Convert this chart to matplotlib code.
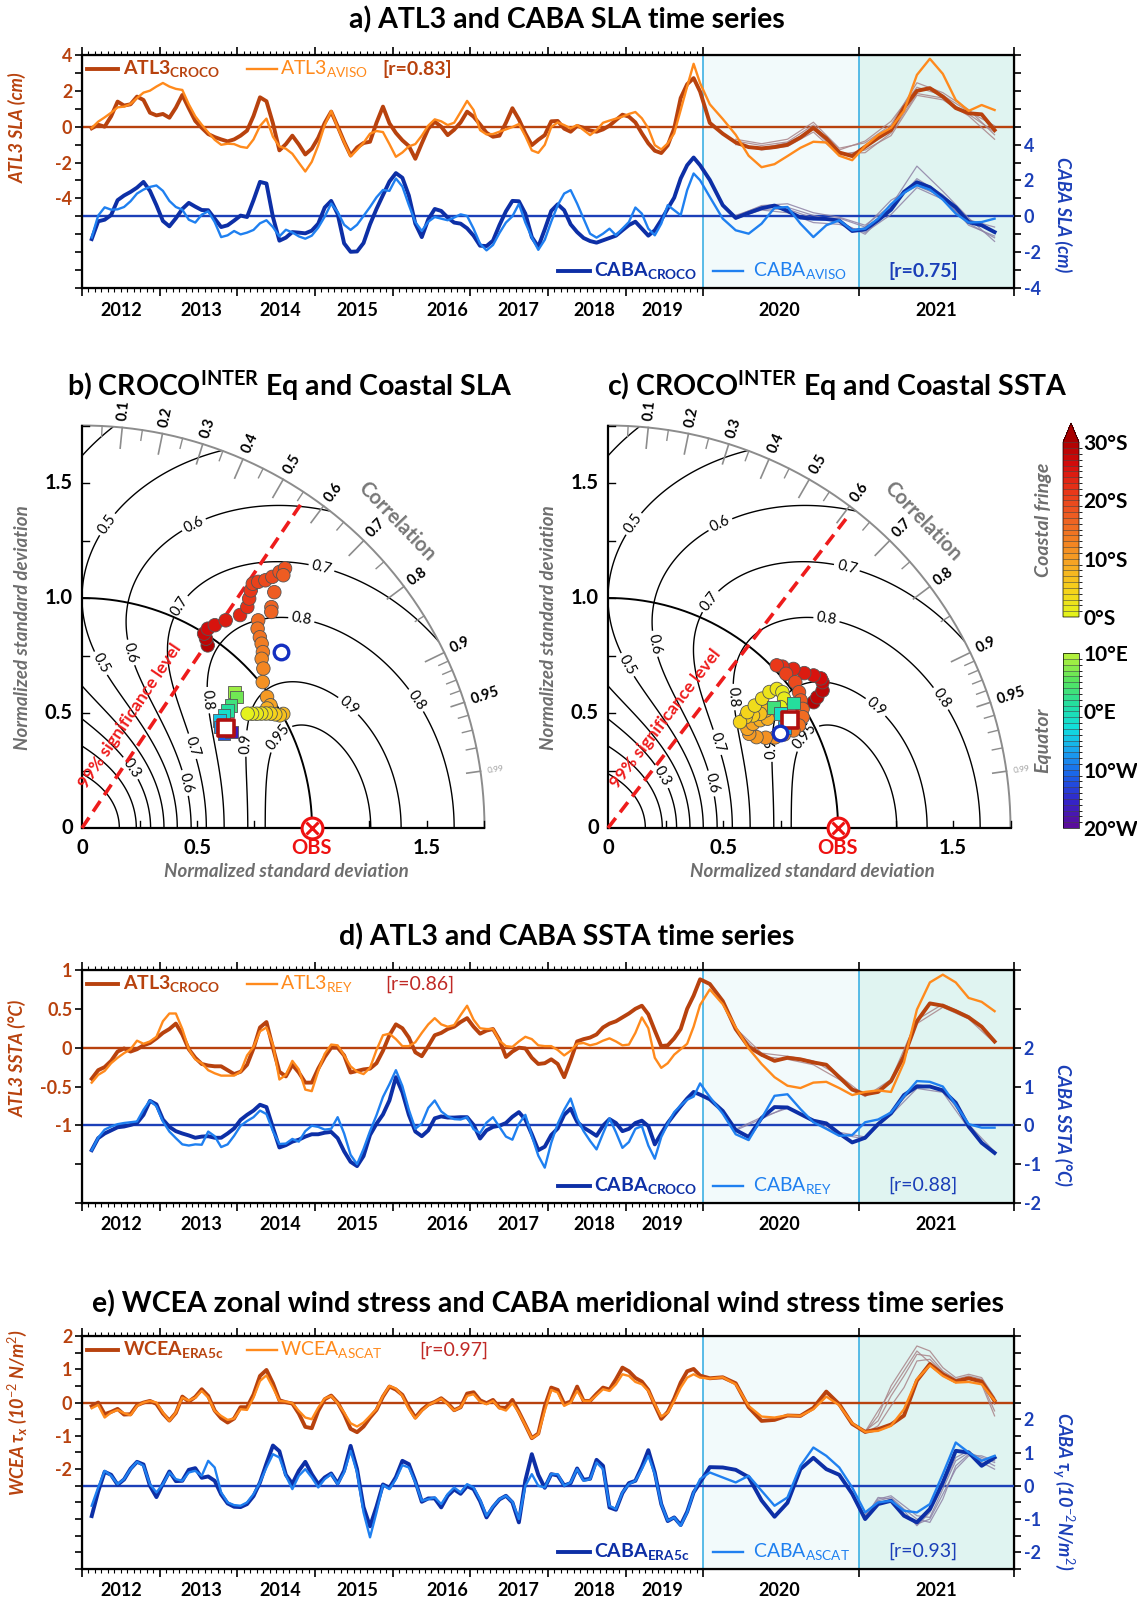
import numpy as np
import matplotlib
matplotlib.use('Agg')
import matplotlib.pyplot as plt
import matplotlib.transforms as mtransforms
from matplotlib.colors import LinearSegmentedColormap, BoundaryNorm
from matplotlib.cm import ScalarMappable

plt.rcParams['font.family'] = ['Lato', 'DejaVu Sans']
plt.rcParams['mathtext.fontset'] = 'custom'
plt.rcParams['mathtext.rm'] = 'Lato'
plt.rcParams['mathtext.bf'] = 'Lato:bold'
plt.rcParams['mathtext.it'] = 'Lato:italic:bold'

# ---------------------------------------------------------------- data
# monthly values, Feb 2012 (m=1) .. Nov 2021 (m=118)
months = np.arange(1, 119)

sla_atl_croco = [-0.09, 0.11, 0.0, 0.58, 1.40, 1.18, 1.25, 1.68, 1.49, 0.78, 0.63, 0.71,
                 0.50, 1.06, 1.77, 1.03, 0.32, -0.06, -0.41, -0.58, -0.71, -0.82, -0.71, -0.50,
                 -0.22, 0.60, 1.64, 1.42, 0.19, -1.32, -0.97, -0.50, -0.99, -1.55, -1.23, -0.62,
                 0.21, 0.84, 0.02, -0.84, -1.60, -1.16, -0.91, -0.84, 0.22, 1.12, 0.19, -0.35,
                 -0.76, -1.08, -1.79, -0.93, -0.11, 0.28, 0.0, -0.47, -0.17, 0.24, 0.84, 0.56,
                 0.13, -0.34, -0.56, -0.50, 0.22, 1.03, 0.41, -0.37, -1.03, -0.73, -0.47, 0.30,
                 0.32, -0.11, -0.28, 0.04, -0.06, -0.21, -0.28, -0.15, 0.06, 0.37, 0.67, 0.56,
                 0.24, -0.37, -0.93, -1.34, -1.47, -1.04, -0.09, 1.60, 2.37, 2.71, 1.96, 0.21,
                 -0.39, -0.88, -1.14, -1.21, -1.14, -1.01, -0.60, -0.07, -0.65, -1.44, -1.64, -1.12,
                 -0.63, -0.19, 1.06, 2.00, 2.15, 1.68, 1.04, 0.75, 0.69, -0.19]
sla_atl_aviso = [-0.07, 0.28, 0.52, 0.78, 1.08, 1.12, 1.27, 1.60, 1.90, 2.01, 2.24, 2.44,
                 2.24, 2.11, 2.05, 1.25, 0.58, 0.11, -0.32, -0.73, -1.01, -0.95, -0.97, -1.12,
                 -1.18, -0.71, 0.04, 0.45, -0.56, -1.10, -1.23, -1.51, -2.01, -2.50, -1.96, -1.04,
                 0.09, 0.88, -0.04, -0.86, -1.66, -1.29, -0.90, -0.39, -0.24, -0.30, -0.97, -1.68,
                 -1.44, -1.10, -0.97, -0.50, 0.06, 0.41, 0.30, 0.09, 0.22, 0.82, 1.44, 0.93,
                 -0.19, -0.43, -0.41, -0.28, -0.15, -0.02, 0.15, -0.52, -1.32, -1.46, -1.01, -0.02,
                 0.24, 0.09, -0.09, 0.09, -0.19, -0.47, -0.19, 0.22, 0.34, 0.45, 0.56, 0.71,
                 0.82, 0.47, -0.09, -1.03, -1.27, -0.93, -0.37, 0.93, 2.24, 3.51, 2.43, 1.25,
                 0.43, -0.45, -1.62, -2.26, -2.09, -1.64, -1.18, -0.84, -0.88, -1.62, -1.87, -1.08,
                 -0.47, -0.06, 0.88, 2.89, 3.79, 2.95, 1.49, 0.88, 1.21, 0.93]
sla_caba_croco = [-1.27, -0.28, -0.19, 0.07, 0.90, 1.16, 1.36, 1.60, 1.92, 1.42, 0.62, -0.26,
                  -0.56, -0.11, 0.41, 0.75, 0.54, 0.35, 0.34, -0.13, -0.60, -0.50, -0.24, 0.04,
                  -0.04, 0.90, 1.92, 1.83, -0.04, -1.36, -1.19, -0.88, -0.91, -0.95, -0.80, -0.41,
                  0.49, 0.86, 0.13, -1.51, -1.98, -1.96, -1.49, -0.45, 0.41, 1.18, 1.94, 2.41,
                  2.15, 1.16, -0.41, -1.16, -0.17, 0.41, 0.30, -0.07, -0.35, -0.41, -0.67, -1.08,
                  -1.64, -1.66, -1.36, -0.49, 0.28, 0.86, 0.84, 0.15, -1.16, -1.70, -0.73, 0.30,
                  0.67, 0.34, -0.45, -0.88, -1.21, -1.38, -1.47, -1.34, -1.21, -1.08, -0.78, -0.49,
                  -0.30, -0.69, -1.08, -0.78, -0.21, 0.43, 1.04, 2.11, 2.85, 3.28, 2.85, 2.03,
                  0.62, -0.09, 0.19, 0.45, 0.60, 0.30, -0.07, -0.13, -0.15, -0.24, -0.82, -0.73,
                  -0.22, 0.37, 1.36, 1.90, 1.62, 1.06, 0.50, -0.32, -0.50, -0.88]
sla_caba_aviso = [-1.18, 0.04, 0.50, 0.37, 0.39, 0.52, 0.84, 1.27, 1.49, 1.64, 1.72, 1.42,
                  0.86, 0.52, 0.37, -0.19, -0.35, 0.09, 0.28, -0.32, -1.16, -1.06, -0.82, -1.01,
                  -0.91, -0.76, -0.39, -0.22, -0.60, -1.12, -0.75, -0.90, -1.12, -1.25, -1.08, -0.63,
                  -0.02, 0.71, 0.24, -0.47, -0.76, -0.47, 0.02, 0.52, 1.06, 1.47, 1.42, 2.11,
                  1.66, 0.63, -0.32, -0.82, -0.30, -0.04, -0.13, -0.22, -0.07, 0.11, 0.02, -0.69,
                  -1.53, -1.90, -1.60, -0.93, -0.35, 0.00, 0.69, -0.35, -1.18, -1.87, -1.31, -0.30,
                  0.62, 1.27, 1.46, 0.71, -0.13, -0.97, -1.19, -0.97, -0.69, -1.06, -0.69, -0.32,
                  0.49, 0.15, -0.69, -1.06, -0.41, 0.62, 0.34, 0.06, 1.46, 2.39, 2.01, 1.08,
                  -0.13, -0.78, -0.97, -0.41, 0.47, 0.52, -0.41, -1.16, -0.50, -0.22, -0.78, -0.69,
                  -0.13, 0.67, 1.31, 1.74, 1.49, 0.93, 0.15, -0.35, -0.32, -0.13]

sst_atl_croco = [-0.40, -0.29, -0.25, -0.17, -0.05, -0.01, -0.05, -0.02, 0.03, 0.06, 0.12, 0.19,
                 0.24, 0.31, 0.17, -0.02, -0.13, -0.21, -0.23, -0.24, -0.24, -0.29, -0.34, -0.31,
                 -0.22, -0.01, 0.26, 0.33, 0.0, -0.31, -0.37, -0.22, -0.32, -0.45, -0.45, -0.27,
                 -0.12, 0.0, 0.0, -0.10, -0.32, -0.30, -0.28, -0.27, -0.20, -0.04, 0.16, 0.30,
                 0.25, 0.13, -0.06, -0.11, 0.02, 0.16, 0.19, 0.24, 0.27, 0.33, 0.38, 0.27,
                 0.18, 0.22, 0.24, 0.10, -0.12, -0.05, 0.0, -0.01, -0.13, -0.21, -0.20, -0.15,
                 -0.21, -0.38, -0.16, 0.08, 0.11, 0.13, 0.17, 0.26, 0.31, 0.34, 0.39, 0.44,
                 0.50, 0.54, 0.43, 0.22, 0.02, 0.03, 0.12, 0.24, 0.50, 0.67, 0.88, 0.82,
                 0.60, 0.24, 0.01, -0.09, -0.17, -0.13, -0.15, -0.19, -0.22, -0.38, -0.54, -0.60,
                 -0.57, -0.43, -0.11, 0.34, 0.57, 0.54, 0.47, 0.39, 0.27, 0.08]
sst_atl_rey = [-0.45, -0.35, -0.30, -0.20, -0.13, -0.07, -0.02, 0.09, 0.05, 0.08, 0.14, 0.34,
               0.44, 0.44, 0.24, -0.02, -0.15, -0.20, -0.29, -0.33, -0.36, -0.36, -0.36, -0.31,
               -0.10, 0.01, 0.21, 0.26, 0.04, -0.41, -0.35, -0.17, -0.28, -0.54, -0.56, -0.30,
               -0.08, 0.04, 0.03, -0.10, -0.24, -0.31, -0.34, -0.26, -0.03, 0.16, 0.18, 0.11,
               0.02, 0.02, 0.07, 0.19, 0.30, 0.38, 0.30, 0.27, 0.29, 0.42, 0.54, 0.36,
               0.25, 0.24, 0.24, 0.09, 0.02, 0.01, 0.08, 0.14, 0.11, 0.03, 0.02, 0.02,
               -0.03, -0.10, -0.04, 0.05, 0.06, 0.03, 0.05, 0.09, 0.12, 0.08, 0.03, 0.04,
               0.19, 0.39, 0.25, -0.13, -0.26, -0.20, -0.09, -0.02, 0.05, 0.27, 0.55, 0.75,
               0.56, 0.26, -0.01, -0.21, -0.38, -0.49, -0.52, -0.45, -0.44, -0.52, -0.61, -0.57,
               -0.55, -0.57, -0.19, 0.49, 0.84, 0.94, 0.84, 0.64, 0.59, 0.47]
sst_caba_croco = [-0.64, -0.33, -0.21, -0.13, -0.05, -0.03, 0.01, 0.06, 0.27, 0.63, 0.54, 0.15,
                  -0.04, -0.15, -0.21, -0.26, -0.32, -0.29, -0.28, -0.32, -0.32, -0.21, -0.08, 0.14,
                  0.27, 0.38, 0.53, 0.47, -0.06, -0.57, -0.51, -0.42, -0.37, -0.29, -0.23, -0.23,
                  -0.19, -0.17, -0.33, -0.67, -0.94, -1.05, -0.79, -0.25, 0.04, 0.28, 0.64, 1.24,
                  0.85, 0.27, -0.16, -0.28, -0.13, 0.18, 0.23, 0.20, 0.20, 0.21, 0.21, 0.01,
                  -0.34, -0.13, -0.04, -0.01, 0.06, 0.22, 0.34, 0.15, -0.23, -0.64, -0.55, -0.25,
                  -0.08, 0.27, 0.43, 0.09, -0.06, -0.16, -0.27, -0.01, 0.16, 0.06, -0.15, -0.09,
                  0.06, 0.12, -0.02, -0.49, -0.21, 0.06, 0.28, 0.49, 0.69, 0.86, 0.79, 0.67,
                  0.37, -0.12, -0.30, 0.19, 0.47, 0.46, 0.29, 0.12, 0.05, -0.21, -0.44, -0.32,
                  0.03, 0.31, 0.78, 1.00, 1.00, 0.90, 0.58, -0.03, -0.45, -0.71]
sst_caba_rey = [-0.64, -0.32, -0.11, -0.03, 0.03, 0.06, 0.08, 0.10, 0.40, 0.64, 0.49, 0.10,
                -0.16, -0.33, -0.49, -0.52, -0.49, -0.50, -0.16, -0.28, -0.56, -0.49, -0.27, -0.01,
                0.11, 0.21, 0.38, 0.29, -0.15, -0.48, -0.47, -0.35, -0.42, -0.15, -0.01, -0.04,
                -0.11, -0.09, 0.21, -0.21, -0.76, -1.00, -0.61, -0.15, 0.26, 0.73, 1.06, 1.42,
                1.01, 0.40, -0.09, 0.05, 0.45, 0.64, 0.36, 0.23, 0.16, 0.15, 0.21, -0.10,
                -0.20, 0.07, 0.21, -0.04, -0.29, -0.37, 0.04, 0.27, -0.27, -0.78, -1.09, -0.45,
                0.04, 0.40, 0.69, 0.18, -0.15, -0.40, -0.62, -0.21, 0.18, -0.18, -0.58, -0.43,
                -0.09, -0.02, -0.52, -0.86, -0.30, 0.04, 0.34, 0.51, 0.66, 0.74, 1.08, 0.73,
                0.30, -0.23, -0.38, 0.18, 0.76, 0.80, 0.42, 0.08, -0.09, -0.27, -0.25, 0.08,
                0.15, 0.33, 0.75, 1.14, 1.12, 1.00, 0.53, 0.03, -0.06, -0.06]

tau_wcea_era5 = [-0.11, 0.0, -0.35, -0.28, -0.19, -0.36, -0.35, -0.08, 0.0, 0.05, -0.04, -0.33,
                 -0.54, -0.31, 0.18, 0.03, 0.17, 0.40, 0.20, -0.24, -0.47, -0.60, -0.48, -0.14,
                 -0.14, 0.24, 0.80, 0.98, 0.58, 0.07, 0.01, -0.03, -0.33, -0.73, -0.77, -0.25,
                 0.10, 0.21, 0.0, -0.35, -0.79, -0.89, -0.72, -0.45, -0.22, 0.18, 0.48, 0.39,
                 0.23, -0.14, -0.45, -0.22, -0.06, 0.02, 0.13, -0.02, -0.23, -0.14, 0.27, 0.31,
                 0.07, -0.02, 0.08, -0.15, -0.16, 0.08, -0.28, -0.67, -1.07, -0.93, -0.11, 0.45,
                 0.38, -0.04, 0.03, 0.48, 0.05, 0.05, 0.26, 0.45, 0.39, 0.70, 1.05, 0.94,
                 0.74, 0.63, 0.38, -0.07, -0.49, -0.28, 0.12, 0.60, 0.94, 1.01, 0.81, 0.73,
                 0.76, 0.58, -0.14, -0.55, -0.52, -0.39, -0.40, -0.16, 0.33, -0.05, -0.64, -0.88,
                 -0.80, -0.66, -0.39, 0.66, 1.16, 0.85, 0.64, 0.73, 0.63, 0.06]
tau_wcea_ascat = [-0.17, -0.07, -0.45, -0.30, -0.22, -0.32, -0.38, -0.10, 0.0, 0.05, 0.0, -0.30,
                  -0.55, -0.30, 0.15, 0.06, 0.15, 0.35, 0.15, -0.25, -0.40, -0.52, -0.48, -0.20,
                  -0.22, 0.15, 0.65, 0.82, 0.45, 0.05, 0.03, -0.02, -0.25, -0.45, -0.50, -0.15,
                  0.12, 0.20, -0.02, -0.30, -0.62, -0.72, -0.60, -0.40, -0.20, 0.20, 0.50, 0.42,
                  0.20, -0.20, -0.48, -0.25, -0.08, 0.02, 0.12, -0.05, -0.24, -0.14, 0.20, 0.25,
                  0.03, -0.05, 0.05, -0.17, -0.24, -0.02, -0.30, -0.68, -1.07, -0.95, -0.25, 0.38,
                  0.30, -0.10, 0.0, 0.35, 0.05, 0.05, 0.22, 0.40, 0.35, 0.55, 0.85, 0.80,
                  0.62, 0.55, 0.35, -0.05, -0.42, -0.30, 0.05, 0.45, 0.75, 0.85, 0.75, 0.72,
                  0.76, 0.55, -0.10, -0.42, -0.45, -0.38, -0.40, -0.20, 0.18, -0.08, -0.62, -0.88,
                  -0.85, -0.70, -0.20, 0.70, 1.12, 0.80, 0.60, 0.62, 0.55, 0.06]
tau_caba_era5 = [-0.91, -0.17, 0.42, 0.33, 0.03, 0.19, 0.51, 0.72, 0.64, 0.0, -0.34, 0.06,
                 0.43, 0.14, 0.15, 0.48, 0.53, 0.24, 0.28, 0.15, -0.26, -0.53, -0.63, -0.64,
                 -0.55, -0.31, 0.10, 0.67, 1.21, 1.04, 0.33, 0.06, 0.45, 0.72, 0.35, 0.05,
                 0.25, 0.37, 0.07, 0.46, 1.20, 0.50, -0.64, -1.22, -0.63, 0.04, -0.06, 0.26,
                 0.75, 0.65, 0.14, -0.48, -0.38, -0.38, -0.65, -0.30, -0.11, -0.24, -0.01, -0.10,
                 -0.46, -0.95, -0.64, -0.41, -0.30, -0.50, -1.10, 0.16, 0.95, 0.33, -0.06, 0.35,
                 0.31, 0.01, 0.08, 0.52, 0.18, 0.21, 0.78, 0.60, -0.65, -0.72, -0.22, 0.08,
                 0.15, 0.57, 1.07, 0.40, -0.55, -1.06, -0.95, -1.18, -0.78, -0.20, 0.10, 0.56,
                 0.55, 0.48, 0.26, -0.44, -0.93, -0.51, 0.50, 0.84, 0.50, 0.33, -0.24, -1.0,
                 -0.55, -0.45, -0.90, -1.10, -0.70, 0.10, 1.05, 1.00, 0.60, 0.85]
tau_caba_ascat = [-0.60, -0.05, 0.45, 0.30, 0.05, 0.20, 0.50, 0.72, 0.60, 0.05, -0.20, 0.05,
                  0.40, 0.20, 0.15, 0.40, 0.45, 0.30, 0.75, 0.55, -0.20, -0.50, -0.58, -0.60,
                  -0.50, -0.25, 0.10, 0.55, 0.95, 0.85, 0.30, -0.10, 0.30, 0.50, 0.25, -0.05,
                  0.20, 0.35, 0.05, 0.40, 1.05, 0.40, -0.80, -1.55, -0.80, 0.02, -0.10, 0.20,
                  0.62, 0.55, 0.10, -0.45, -0.40, -0.35, -0.55, -0.25, -0.05, -0.20, 0.05, -0.05,
                  -0.42, -0.90, -0.62, -0.40, -0.30, -0.48, -1.00, 0.0, 0.35, 0.0, -0.05, 0.35,
                  0.35, 0.0, 0.10, 0.50, 0.15, 0.20, 0.70, 0.50, -0.60, -0.70, -0.20, 0.05,
                  0.15, 0.50, 0.90, 0.35, -0.55, -1.05, -0.95, -1.20, -0.80, -0.20, 0.20, 0.40,
                  0.25, 0.10, 0.30, -0.15, -0.60, -0.35, 0.60, 1.15, 0.90, 0.55, -0.05, -0.80,
                  -0.50, -0.45, -0.75, -0.80, -0.55, 0.35, 1.30, 1.00, 0.75, 0.90]

# ensemble members (sparser sampling)
mem_months_ad = [98, 100, 102, 104, 106, 108, 110, 112, 114, 116, 118]
mem_months_e = [108, 109, 110, 111, 112, 113, 114, 115, 116, 117, 118]
sla_atl_members = [[-0.70, -0.95, -0.70, 0.25, -1.20, -0.90, 0.10, 2.45, 1.90, 0.95, -0.45],
                   [-0.95, -1.30, -1.10, -0.30, -1.60, -1.30, -0.50, 1.75, 1.50, 0.60, -0.70],
                   [-0.80, -1.05, -0.85, 0.10, -1.30, -0.80, 0.30, 2.20, 1.75, 0.85, 0.05],
                   [-1.00, -1.20, -0.90, -0.15, -1.50, -1.45, -0.35, 1.85, 1.60, 0.70, -0.30]]
sla_caba_members = [[0.00, 0.60, 0.70, 0.20, -0.05, -0.50, 0.60, 2.80, 1.40, -0.10, -1.40],
                    [-0.10, 0.35, 0.20, -0.35, -0.45, -0.90, 0.10, 1.60, 0.95, -0.40, -1.20],
                    [0.05, 0.55, 0.50, 0.05, -0.30, -1.00, 0.50, 2.10, 1.20, -0.20, -0.60],
                    [-0.15, 0.40, 0.40, -0.10, -0.10, -0.60, 0.90, 1.70, 1.10, -0.50, -1.10]]
sst_atl_members = [[0.25, -0.07, -0.11, -0.17, -0.36, -0.62, -0.45, 0.31, 0.52, 0.37, 0.06],
                   [0.23, -0.11, -0.15, -0.22, -0.41, -0.63, -0.41, 0.36, 0.56, 0.41, 0.10]]
sst_caba_members = [[-0.10, 0.21, 0.44, 0.15, -0.18, -0.30, 0.27, 0.95, 0.85, -0.08, -0.74],
                    [-0.13, 0.17, 0.48, 0.10, -0.23, -0.35, 0.34, 1.05, 0.93, 0.02, -0.68]]
tau_wcea_members = [[-0.90, -0.40, 0.50, 1.10, 1.70, 1.55, 1.05, 0.75, 0.85, 0.75, 0.15],
                    [-0.85, -0.55, 0.20, 0.80, 1.45, 1.40, 0.95, 0.70, 0.80, 0.70, -0.05],
                    [-0.92, -0.70, -0.10, 0.45, 1.25, 1.30, 0.90, 0.65, 0.75, 0.60, -0.25],
                    [-0.88, -0.25, 0.35, 0.95, 1.55, 1.20, 0.80, 0.60, 0.72, 0.55, -0.40]]
tau_caba_members = [[-0.85, -0.45, -0.35, -0.70, -1.00, -1.10, -0.40, 0.60, 0.95, 0.80, 0.60],
                    [-0.90, -0.40, -0.30, -0.60, -0.90, -0.95, -0.10, 0.75, 1.00, 0.85, 0.70],
                    [-0.80, -0.50, -0.45, -0.85, -1.15, -1.00, -0.25, 0.50, 0.90, 0.90, 0.75],
                    [-0.95, -0.35, -0.40, -0.75, -1.20, -0.80, 0.00, 0.85, 1.05, 0.70, 0.50]]

years = ['2012', '2013', '2014', '2015', '2016', '2017', '2018', '2019', '2020', '2021']
year_label_pos = [2012.5, 2013.54, 2014.55, 2015.54, 2016.71, 2017.62, 2018.6, 2019.47, 2020.49, 2021.5]

# Taylor diagram points (normalised std, correlation)
b_coast_std = [0.964, 0.984, 0.998, 1.025, 1.054, 1.098, 1.153, 1.200, 1.234, 1.267, 1.296, 1.316,
               1.340, 1.370, 1.406, 1.433, 1.405, 1.323, 1.265, 1.249, 1.184, 1.155, 1.134, 1.119,
               1.097, 1.073, 1.050, 1.010, 0.986, 0.978, 0.958, 1.006, 0.990, 0.975, 0.959, 0.942,
               0.925, 0.908, 0.891, 0.875]
b_coast_corr = [0.567, 0.548, 0.532, 0.534, 0.548, 0.569, 0.596, 0.599, 0.589, 0.579, 0.573, 0.582,
                0.595, 0.604, 0.611, 0.616, 0.623, 0.632, 0.651, 0.659, 0.647, 0.661, 0.682, 0.698,
                0.717, 0.728, 0.751, 0.778, 0.816, 0.838, 0.840, 0.870, 0.869, 0.862, 0.855, 0.849,
                0.843, 0.837, 0.830, 0.823]
b_coast_lat = [29, 28, 27, 26, 25, 24, 23, 22, 21.5, 21, 20.5, 20, 19.5, 19, 18.5, 18, 17.5, 17,
               16.5, 16, 15, 14.5, 14, 13.5, 13, 12.5, 12, 11, 10, 9, 8, 7, 6, 5, 4, 3, 2, 1.5, 1, 0.5]
b_eq_std = [0.889, 0.881, 0.839, 0.814, 0.788, 0.759, 0.745, 0.741, 0.771]
b_eq_corr = [0.747, 0.763, 0.772, 0.778, 0.783, 0.787, 0.808, 0.833, 0.841]
b_eq_lon = [8, 6, 3, 1, -2, -5, -8, -12, -17]
b_caba = (0.760, 0.822)
b_atl3 = (1.156, 0.750)
b_sig_corr = 0.56

c_coast_std = [1.048, 1.073, 1.108, 1.128, 1.131, 1.113, 1.087, 1.062, 1.033, 1.019, 1.024, 1.032,
               1.019, 1.005, 0.992, 0.974, 0.942, 0.911, 0.867, 0.826, 0.790, 0.757, 0.738, 0.744,
               0.776, 0.811, 0.841, 0.855, 0.828, 0.798, 0.768, 0.736, 0.788, 0.831, 0.875, 0.918,
               0.951, 0.961, 0.950, 0.916]
c_coast_corr = [0.853, 0.848, 0.842, 0.827, 0.818, 0.803, 0.785, 0.759, 0.734, 0.720, 0.756, 0.789,
                0.815, 0.834, 0.853, 0.869, 0.881, 0.885, 0.883, 0.879, 0.868, 0.853, 0.832, 0.815,
                0.812, 0.816, 0.825, 0.802, 0.800, 0.790, 0.779, 0.780, 0.769, 0.768, 0.766, 0.765,
                0.772, 0.789, 0.806, 0.819]
c_coast_lat = [29, 28.5, 28, 27, 26, 25, 24, 23, 22, 21, 20, 19, 18, 17, 16, 15, 14, 13, 12, 11.5,
               11, 10.5, 10, 9.5, 9, 8.5, 8, 7, 6, 5.5, 5, 4.5, 4, 3.5, 3, 2.5, 2, 1.5, 1, 0.5]
c_eq_std = [0.890, 0.972, 0.900, 0.883]
c_eq_corr = [0.807, 0.829, 0.834, 0.868]
c_eq_lon = [3, 1, -2, -6]
c_caba = (0.918, 0.860)
c_atl3 = (0.852, 0.876)
c_sig_corr = 0.61

skill_levels = [0.1, 0.2, 0.3, 0.4, 0.5, 0.6, 0.7, 0.8, 0.9, 0.95]
corr_major = [0.1, 0.2, 0.3, 0.4, 0.5, 0.6, 0.7, 0.8, 0.9, 0.95, 0.99]
corr_minor = [0.05, 0.15, 0.25, 0.35, 0.45, 0.55, 0.65, 0.75, 0.85,
              0.91, 0.92, 0.93, 0.94, 0.96, 0.97, 0.98]

# ---------------------------------------------------------------- style
ATL_DARK = '#b8420e'
ATL_LIGHT = '#ff8a1c'
CABA_DARK = '#0d2fa6'
CABA_LIGHT = '#1f80f0'
CABA_ZERO = '#1b3fb8'
GREY = '#6e6e6e'
LEG_FS = 14

W, H = 1137, 1603
fig = plt.figure(figsize=(W / 100, H / 100), dpi=100)


def fx(px):
    return px / W


def fy(py):
    return 1 - py / H


def rect(l, t, r, b):
    return [fx(l), fy(b), (r - l) / W, (b - t) / H]


def fwd(t):
    t = np.asarray(t, float)
    return np.where(t < 2020, t - 2012, 8 + 2 * (t - 2020))


def inv(x):
    x = np.asarray(x, float)
    return np.where(x < 8, x + 2012, 2020 + (x - 8) / 2)


def month_time(m):
    return 2012 + (np.asarray(m) + 0.5) / 12


t_month = month_time(months)


def series_panel(box, p):
    ax = fig.add_axes(rect(*box))
    ax.set_xscale('function', functions=(fwd, inv))
    ax.set_xlim(2012, 2022)
    ax.set_ylim(*p['llim'])
    ax.axvspan(2020, 2021, facecolor='#f2fafb', lw=0, zorder=0)
    ax.axvspan(2021, 2022, facecolor='#e0f4f1', lw=0, zorder=0)
    for yr in (2020, 2021):
        ax.axvline(yr, color='#2eaae2', lw=1.1, zorder=1)
    ax.axhline(0, color=ATL_DARK, lw=1.7, zorder=2)
    mt = month_time(p['mem_months'])
    for mem in p['atl_mem']:
        ax.plot(mt, mem, color='#a98489', lw=0.9, alpha=0.85, zorder=3)
    ax.plot(t_month, p['atl_mod'], color=ATL_DARK, lw=2.8, zorder=4)
    ax.plot(t_month, p['atl_obs'], color=ATL_LIGHT, lw=1.7, zorder=5)

    # x ticks
    ax.set_xticks(np.arange(2012, 2023))
    ax.set_xticks(np.arange(2012, 2020, 1 / 12), minor=True)
    ax.set_xticklabels([])
    ax.tick_params(axis='x', which='major', length=6, width=1.2, top=True, direction='out')
    ax.tick_params(axis='x', which='minor', length=3, width=0.8, top=True, direction='out')
    trans = mtransforms.blended_transform_factory(ax.transData, ax.transAxes)
    for pos, lab in zip(year_label_pos, years):
        ax.text(pos, -22 / 233, lab, transform=trans, ha='center', va='center',
                fontsize=13, fontweight='bold')

    lt = np.arange(p['llim'][0], p['llim'][1] + 1e-9, p['lstep'])
    ax.set_yticks(lt)
    ax.set_yticklabels([f'{v:g}' if any(abs(v - q) < 1e-6 for q in p['llab']) else '' for v in lt])
    ax.tick_params(axis='y', length=5, width=1.2, labelsize=13, labelcolor=ATL_DARK, pad=2)
    for lab in ax.get_yticklabels():
        lab.set_fontweight('bold')
    for s in ax.spines.values():
        s.set_linewidth(1.6)

    ax2 = ax.twinx()
    ax2.set_ylim(*p['rlim'])
    ax2.axhline(0, color=CABA_ZERO, lw=1.7, zorder=2)
    for mem in p['caba_mem']:
        ax2.plot(mt, mem, color='#8e82a6', lw=0.9, alpha=0.85, zorder=3)
    ax2.plot(t_month, p['caba_mod'], color=CABA_DARK, lw=2.8, zorder=4)
    ax2.plot(t_month, p['caba_obs'], color=CABA_LIGHT, lw=1.7, zorder=5)
    rt = np.arange(p['rlim'][0], p['rlim'][1] + 1e-9, p['rstep'])
    ax2.set_yticks(rt)
    ax2.set_yticklabels([f'{v:g}' if any(abs(v - q) < 1e-6 for q in p['rlab']) else '' for v in rt])
    ax2.tick_params(axis='y', length=5, width=1.2, labelsize=13, labelcolor=CABA_ZERO, pad=2)
    for lab in ax2.get_yticklabels():
        lab.set_fontweight('bold')

    # legends
    ty = 0.94
    ax2.plot([0.005, 0.039], [ty, ty], color=ATL_DARK, lw=2.8, transform=ax2.transAxes)
    ax2.text(0.044, ty, p['lab_atl_mod'], color=ATL_DARK, fontsize=LEG_FS, va='center', transform=ax2.transAxes)
    ax2.plot([0.177, 0.209], [ty, ty], color=ATL_LIGHT, lw=1.7, transform=ax2.transAxes)
    ax2.text(0.212, ty, p['lab_atl_obs'], color=ATL_LIGHT, fontsize=LEG_FS, va='center', transform=ax2.transAxes)
    ax2.text(p['r1x'], ty, p['r_atl'], color=p['rcol'], fontsize=LEG_FS, va='center',
             fontweight=p['rweight'], transform=ax2.transAxes)
    by = 0.075
    ax2.plot([0.511, 0.545], [by, by], color=CABA_DARK, lw=2.8, transform=ax2.transAxes)
    ax2.text(0.549, by, p['lab_caba_mod'], color=CABA_DARK, fontsize=LEG_FS, va='center', transform=ax2.transAxes)
    ax2.plot([0.677, 0.709], [by, by], color=CABA_LIGHT, lw=1.7, transform=ax2.transAxes)
    ax2.text(0.72, by, p['lab_caba_obs'], color=CABA_LIGHT, fontsize=LEG_FS, va='center', transform=ax2.transAxes)
    ax2.text(0.865, by, p['r_caba'], color=CABA_ZERO, fontsize=LEG_FS, va='center',
             fontweight=p['rweight'], transform=ax2.transAxes)
    return ax, ax2


# ---------------------------------------------------------------- panel a
fig.text(fx(567), fy(20), 'a) ATL3 and CABA SLA time series', ha='center', va='center',
         fontsize=20.5, fontweight='bold')
series_panel((82, 55, 1014, 288), dict(
    llim=(-9, 4), lstep=1, llab=[-4, -2, 0, 2, 4],
    rlim=(-4, 9), rstep=1, rlab=[-4, -2, 0, 2, 4],
    atl_mod=sla_atl_croco, atl_obs=sla_atl_aviso, caba_mod=sla_caba_croco, caba_obs=sla_caba_aviso,
    mem_months=mem_months_ad, atl_mem=sla_atl_members, caba_mem=sla_caba_members,
    lab_atl_mod=r'$\mathbf{ATL3}_{\mathbf{CROCO}}$', lab_atl_obs=r'$\mathrm{ATL3}_{\mathrm{AVISO}}$',
    lab_caba_mod=r'$\mathbf{CABA}_{\mathbf{CROCO}}$', lab_caba_obs=r'$\mathrm{CABA}_{\mathrm{AVISO}}$',
    r_atl='[r=0.83]', r_caba='[r=0.75]', r1x=0.322, rcol=ATL_DARK, rweight='bold'))
fig.text(fx(18), fy(128), 'ATL3 SLA (cm)', rotation=90, ha='center', va='center', fontsize=13,
         fontweight='bold', style='italic', color=ATL_DARK)
fig.text(fx(1063), fy(215), 'CABA SLA (cm)', rotation=270, ha='center', va='center', fontsize=13,
         fontweight='bold', style='italic', color=CABA_ZERO)

# ---------------------------------------------------------------- Taylor diagrams
coast_cmap = LinearSegmentedColormap.from_list(
    'coast', ['#e4f21c', '#f6d21a', '#f6a824', '#f27e22', '#ee5a22', '#e83418', '#d40c0c', '#a80000'])
coast_norm = BoundaryNorm(np.arange(0, 31), coast_cmap.N, extend='max')
eq_cmap = LinearSegmentedColormap.from_list(
    'eq', ['#5a0c9c', '#3424c8', '#1a5ce8', '#1aa0f0', '#10dede', '#22dea0', '#58e45c', '#b4f03c'])
eq_norm = BoundaryNorm(np.arange(-20, 11), eq_cmap.N)

S_UNIT = 230
RMAX = 1.75


def xy(std, corr):
    std = np.asarray(std, float)
    corr = np.asarray(corr, float)
    return std * corr, std * np.sqrt(1 - corr ** 2)


def taylor(ox, oy, coast, eq, caba, atl3, sig_corr, sig_off, clabel_pos):
    size = 1.85 * S_UNIT
    ax = fig.add_axes(rect(ox, oy - size, ox + size, oy))
    ax.set_xlim(0, 1.85)
    ax.set_ylim(0, 1.85)
    ax.axis('off')

    rr = np.linspace(0.005, RMAX, 400)
    th = np.linspace(0, np.pi / 2, 400)
    R, TH = np.meshgrid(rr, th)
    X, Y = R * np.cos(TH), R * np.sin(TH)
    skill = 2 * (1 + np.cos(TH)) / (R + 1 / R) ** 2
    cs = ax.contour(X, Y, skill, levels=skill_levels, colors='k', linewidths=1.0, zorder=2)
    ax.clabel(cs, manual=clabel_pos, fmt=lambda v: f'{v:g}', fontsize=10.5, inline=True, inline_spacing=3)

    a = np.linspace(0, np.pi / 2, 300)
    ax.plot(np.cos(a), np.sin(a), color='k', lw=1.4, zorder=2)
    ax.plot(RMAX * np.cos(a), RMAX * np.sin(a), color='#8c8c8c', lw=1.4, clip_on=False, zorder=2)
    ax.plot([0, RMAX], [0, 0], color='k', lw=1.6, clip_on=False, zorder=3)
    ax.plot([0, 0], [0, RMAX], color='k', lw=1.6, clip_on=False, zorder=3)
    for v in np.arange(0.25, RMAX + 0.01, 0.25):
        ax.plot([v, v], [0, 0.03], color='k', lw=1.0, zorder=3)
        ax.plot([0, 0.03], [v, v], color='k', lw=1.0, zorder=3)

    for c in corr_major:
        t = np.arccos(c)
        ln = 0.09 if c <= 0.9 else 0.06
        ax.plot([(RMAX - ln) * np.cos(t), RMAX * np.cos(t)], [(RMAX - ln) * np.sin(t), RMAX * np.sin(t)],
                color='#8c8c8c', lw=1.2, clip_on=False)
        small = c == 0.99
        ax.text((RMAX + 0.03) * np.cos(t), (RMAX + 0.03) * np.sin(t), f'{c:g}',
                rotation=np.degrees(t), rotation_mode='anchor', ha='left', va='center',
                fontsize=6 if small else 10.5, color='#9a9a9a' if small else 'k',
                fontweight='normal' if small else 'bold', clip_on=False)
    for c in corr_minor:
        t = np.arccos(c)
        ax.plot([(RMAX - 0.045) * np.cos(t), RMAX * np.cos(t)], [(RMAX - 0.045) * np.sin(t), RMAX * np.sin(t)],
                color='#8c8c8c', lw=1.0, clip_on=False)

    ax.text(1.37, 1.335, 'Correlation', rotation=-46, ha='center', va='center', fontsize=14.5,
            fontweight='bold', color='#777777')

    # significance line
    t = np.arccos(sig_corr)
    ax.plot([0, 1.72 * np.cos(t)], [0, 1.72 * np.sin(t)], color='#ee1c1c', lw=2.6,
            ls=(0, (3.5, 2)), zorder=4, clip_on=False)
    along, perp = sig_off
    ax.text(along * np.cos(t) - perp * np.sin(t), along * np.sin(t) + perp * np.cos(t),
            '99% significance level', rotation=np.degrees(t), rotation_mode='anchor',
            ha='center', va='center', color='#ee1c1c', fontsize=12.5, fontweight='bold', zorder=5)

    cx, cy = xy(coast[0], coast[1])
    ax.scatter(cx, cy, c=coast[2], cmap=coast_cmap, norm=coast_norm, s=95, marker='o',
               edgecolors='#555555', linewidths=0.6, zorder=6)
    ex, ey = xy(eq[0], eq[1])
    ax.scatter(ex, ey, c=eq[2], cmap=eq_cmap, norm=eq_norm, s=85, marker='s',
               edgecolors='#555555', linewidths=0.6, zorder=7)
    qx, qy = xy(*caba)
    ax.scatter([qx], [qy], s=135, marker='s', facecolors='white', edgecolors='#b01010', linewidths=2.6, zorder=8)
    px_, py_ = xy(*atl3)
    ax.scatter([px_], [py_], s=110, marker='o', facecolors='white', edgecolors='#1530c0', linewidths=2.4, zorder=8)

    ax.plot([1], [0], 'o', ms=15, mfc='white', mec='#ee1111', mew=2.2, clip_on=False, zorder=9)
    ax.plot([1], [0], 'x', ms=8, mec='#ee1111', mew=2.2, clip_on=False, zorder=10)
    ax.text(1.0, -0.045, 'OBS', color='#ee1111', fontsize=14.5, fontweight='bold', ha='center', va='top')
    for v, lab in [(0, '0'), (0.5, '0.5'), (1.5, '1.5')]:
        ax.text(v, -0.045, lab, fontsize=14.5, fontweight='bold', ha='center', va='top')
    for v, lab in [(0, '0'), (0.5, '0.5'), (1.0, '1.0'), (1.5, '1.5')]:
        ax.text(-0.04, v, lab, fontsize=14.5, fontweight='bold', ha='right', va='center')
    ax.text(0.89, -0.19, 'Normalized standard deviation', fontsize=13.5, fontweight='bold', style='italic',
            color=GREY, ha='center', va='center')
    ax.text(-0.26, 0.87, 'Normalized standard deviation', fontsize=13.5, fontweight='bold', style='italic',
            color=GREY, ha='center', va='center', rotation=90)
    return ax


b_clabels = [(0.11, 1.32), (0.484, 1.323), (1.04, 1.127), (0.953, 0.903), (1.453, 0.555),
             (1.148, 0.519), (0.875, 0.381), (0.719, 0.367), (0.539, 0.555), (0.43, 0.96),
             (0.469, 0.352), (0.4375, 0.193), (0.195, 0.758), (0.078, 0.714), (0.219, 0.265)]
c_clabels = [(0.112, 1.322), (0.487, 1.322), (1.037, 1.126), (0.439, 0.989), (0.949, 0.902),
             (1.436, 0.555), (1.157, 0.518), (0.199, 0.80), (0.080, 0.707), (0.543, 0.569),
             (0.479, 0.374), (0.447, 0.193), (0.854, 0.402), (0.71, 0.345), (0.231, 0.222)]

fig.text(fx(290), fy(386), r'b) CROCO$^{\mathbf{INTER}}$ Eq and Coastal SLA', ha='center', va='center',
         fontsize=20.5, fontweight='bold')
taylor(82, 828, (b_coast_std, b_coast_corr, b_coast_lat), (b_eq_std, b_eq_corr, b_eq_lon),
       b_caba, b_atl3, b_sig_corr, (0.52, 0.1), b_clabels)
fig.text(fx(837), fy(386), r'c) CROCO$^{\mathbf{INTER}}$ Eq and Coastal SSTA', ha='center', va='center',
         fontsize=20.5, fontweight='bold')
taylor(608, 828, (c_coast_std, c_coast_corr, c_coast_lat), (c_eq_std, c_eq_corr, c_eq_lon),
       c_caba, c_atl3, c_sig_corr, (0.53, 0.09), c_clabels)

# colorbars
cax1 = fig.add_axes(rect(1063, 423, 1079, 617))
cb1 = fig.colorbar(ScalarMappable(norm=coast_norm, cmap=coast_cmap), cax=cax1, extend='max',
                   extendfrac=0.11, drawedges=True, ticks=[0, 10, 20, 30])
cb1.ax.set_yticklabels(['0°S', '10°S', '20°S', '30°S'])
cax2 = fig.add_axes(rect(1063, 653, 1079, 828))
cb2 = fig.colorbar(ScalarMappable(norm=eq_norm, cmap=eq_cmap), cax=cax2, drawedges=True,
                   ticks=[-20, -10, 0, 10])
cb2.ax.set_yticklabels(['20°W', '10°W', '0°E', '10°E'])
for cb in (cb1, cb2):
    cb.ax.tick_params(length=0, labelsize=15, pad=3)
    for lab in cb.ax.get_yticklabels():
        lab.set_fontweight('bold')
    cb.outline.set_linewidth(0.5)
    cb.dividers.set_color('#444444')
    cb.dividers.set_linewidth(0.4)
fig.text(fx(1043), fy(520), 'Coastal fringe', rotation=90, ha='center', va='center', fontsize=14,
         fontweight='bold', style='italic', color=GREY)
fig.text(fx(1043), fy(740), 'Equator', rotation=90, ha='center', va='center', fontsize=14,
         fontweight='bold', style='italic', color=GREY)

# ---------------------------------------------------------------- panel d
fig.text(fx(567), fy(937), 'd) ATL3 and CABA SSTA time series', ha='center', va='center',
         fontsize=20.5, fontweight='bold')
series_panel((82, 970, 1014, 1203), dict(
    llim=(-2, 1), lstep=0.5, llab=[-1, -0.5, 0, 0.5, 1],
    rlim=(-2, 4), rstep=1, rlab=[-2, -1, 0, 1, 2],
    atl_mod=sst_atl_croco, atl_obs=sst_atl_rey, caba_mod=sst_caba_croco, caba_obs=sst_caba_rey,
    mem_months=mem_months_ad, atl_mem=sst_atl_members, caba_mem=sst_caba_members,
    lab_atl_mod=r'$\mathbf{ATL3}_{\mathbf{CROCO}}$', lab_atl_obs=r'$\mathrm{ATL3}_{\mathrm{REY}}$',
    lab_caba_mod=r'$\mathbf{CABA}_{\mathbf{CROCO}}$', lab_caba_obs=r'$\mathrm{CABA}_{\mathrm{REY}}$',
    r_atl='[r=0.86]', r_caba='[r=0.88]', r1x=0.325, rcol='#c02a26', rweight='normal'))
fig.text(fx(18), fy(1058), 'ATL3 SSTA (°C)', rotation=90, ha='center', va='center', fontsize=13,
         fontweight='bold', style='italic', color=ATL_DARK)
fig.text(fx(1063), fy(1125), 'CABA SSTA (°C)', rotation=270, ha='center', va='center', fontsize=13,
         fontweight='bold', style='italic', color=CABA_ZERO)

# ---------------------------------------------------------------- panel e
fig.text(fx(548), fy(1304), 'e) WCEA zonal wind stress and CABA meridional wind stress time series',
         ha='center', va='center', fontsize=20.5, fontweight='bold')
series_panel((82, 1336, 1014, 1569), dict(
    llim=(-5, 2), lstep=0.5, llab=[-2, -1, 0, 1, 2],
    rlim=(-2.5, 4.5), rstep=0.5, rlab=[-2, -1, 0, 1, 2],
    atl_mod=tau_wcea_era5, atl_obs=tau_wcea_ascat, caba_mod=tau_caba_era5, caba_obs=tau_caba_ascat,
    mem_months=mem_months_e, atl_mem=tau_wcea_members, caba_mem=tau_caba_members,
    lab_atl_mod=r'$\mathbf{WCEA}_{\mathbf{ERA5c}}$', lab_atl_obs=r'$\mathrm{WCEA}_{\mathrm{ASCAT}}$',
    lab_caba_mod=r'$\mathbf{CABA}_{\mathbf{ERA5c}}$', lab_caba_obs=r'$\mathrm{CABA}_{\mathrm{ASCAT}}$',
    r_atl='[r=0.97]', r_caba='[r=0.93]', r1x=0.362, rcol='#c02a26', rweight='normal'))
fig.text(fx(18), fy(1413), r'WCEA $\tau_x$ (10$^{-2}$ N/m$^2$)', rotation=90, ha='center', va='center',
         fontsize=13, fontweight='bold', style='italic', color=ATL_DARK)
fig.text(fx(1063), fy(1491), r'CABA $\tau_y$ (10$^{-2}$N/m$^2$)', rotation=270, ha='center', va='center',
         fontsize=13, fontweight='bold', style='italic', color=CABA_ZERO)

fig.savefig('out.png', dpi=100)
